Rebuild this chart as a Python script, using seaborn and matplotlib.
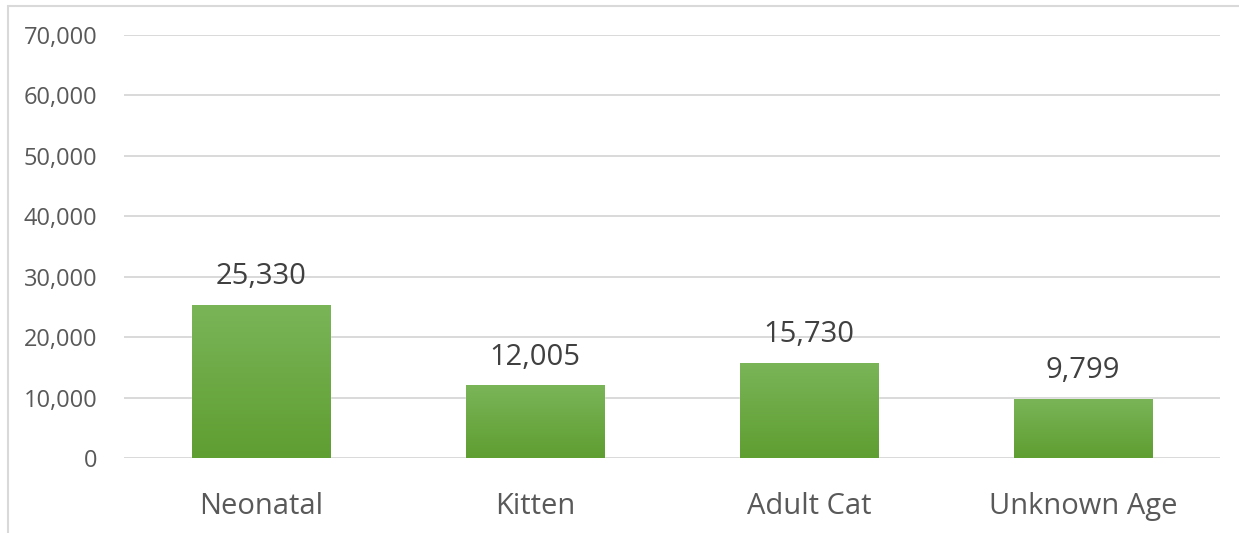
import numpy as np
import pandas as pd
import seaborn as sns
import matplotlib.pyplot as plt
from matplotlib.lines import Line2D
from matplotlib.ticker import FuncFormatter

# Chart data
categories = ["Neonatal", "Kitten", "Adult Cat", "Unknown Age"]
counts = [25330, 12005, 15730, 9799]
y_ticks = [0, 10000, 20000, 30000, 40000, 50000, 60000, 70000]

df = pd.DataFrame({"category": categories, "count": counts})

sns.set_theme(style="white")
plt.rcParams["font.family"] = ["Open Sans", "DejaVu Sans"]

W, H = 1239, 533
fig = plt.figure(figsize=(W / 100, H / 100), dpi=100)
ax = fig.add_axes([124 / W, 75 / H, (1220 - 124) / W, (458 - 35) / H])

sns.barplot(data=df, x="category", y="count", color="#6aaa3c",
            width=0.505, saturation=1, ax=ax, zorder=3)

# vertical gradient fill on each bar (lighter top, darker bottom)
top_c = np.array([0x7a, 0xb5, 0x58]) / 255
bot_c = np.array([0x5f, 0x9e, 0x31]) / 255
grad = np.linspace(0, 1, 256)[:, None, None]
img = bot_c * (1 - grad) + top_c * grad
for p in ax.patches:
    x0, y0 = p.get_x(), p.get_y()
    w, h = p.get_width(), p.get_height()
    im = ax.imshow(img, extent=[x0, x0 + w, y0, y0 + h], origin="lower",
                   aspect="auto", zorder=4, interpolation="bilinear")
    im.set_clip_path(p)
    ax.annotate(f"{int(h):,}", (x0 + w / 2, h), xytext=(0, 10),
                textcoords="offset points", ha="center", va="bottom",
                fontsize=21, color="#404040", zorder=5)

ax.set_xlim(-0.5, len(categories) - 0.5)
ax.set_ylim(0, 70000)
ax.set_yticks(y_ticks)
ax.yaxis.set_major_formatter(FuncFormatter(lambda v, _: f"{int(v):,}"))
ax.grid(axis="y", color="#d9d9d9", linewidth=1.4, zorder=0)
ax.set_axisbelow(True)
for s in ax.spines.values():
    s.set_visible(False)
ax.tick_params(axis="y", length=0, pad=19, labelsize=17, labelcolor="#595959")
ax.tick_params(axis="x", length=0, pad=24.5, labelsize=21, labelcolor="#595959")
ax.set_xlabel("")
ax.set_ylabel("")

# light chart-area border (top and left visible)
fig.add_artist(Line2D([8 / W, 1], [1 - 6 / H, 1 - 6 / H],
                      transform=fig.transFigure, color="#d9d9d9", lw=1.5))
fig.add_artist(Line2D([8 / W, 8 / W], [0, 1 - 6 / H],
                      transform=fig.transFigure, color="#d9d9d9", lw=1.5))

fig.savefig("out.png", dpi=100, facecolor="white")
